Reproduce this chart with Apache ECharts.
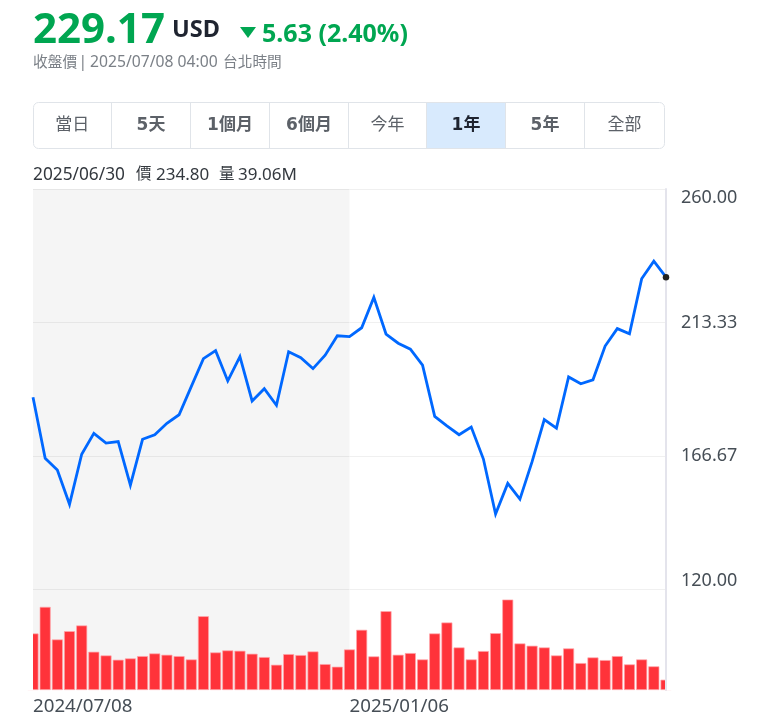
<!DOCTYPE html>
<html><head><meta charset="utf-8">
<style>html,body{margin:0;padding:0;background:#fff}#c{width:759px;height:718px}</style>
<script src="https://cdn.jsdelivr.net/npm/echarts@6/dist/echarts.min.js"></script>
</head><body><div id="c"></div>
<script>
const dates = ["2024/07/08","2024/07/15","2024/07/22","2024/07/29","2024/08/05","2024/08/12","2024/08/19","2024/08/26","2024/09/03","2024/09/09","2024/09/16","2024/09/23","2024/09/30","2024/10/07","2024/10/14","2024/10/21","2024/10/28","2024/11/04","2024/11/11","2024/11/18","2024/11/25","2024/12/02","2024/12/09","2024/12/16","2024/12/23","2024/12/30","2025/01/06","2025/01/13","2025/01/21","2025/01/27","2025/02/03","2025/02/10","2025/02/18","2025/02/24","2025/03/03","2025/03/10","2025/03/17","2025/03/24","2025/03/31","2025/04/07","2025/04/14","2025/04/21","2025/04/28","2025/05/05","2025/05/12","2025/05/19","2025/05/27","2025/06/02","2025/06/09","2025/06/16","2025/06/23","2025/06/30","2025/07/07"];
const prices = [187.2,165.9,161.8,149.8,167.3,174.6,171.2,171.7,156.5,172.5,174.1,178.1,181.1,190.9,200.7,203.5,192.9,201.4,185.9,190.2,184.4,203.1,201.0,197.2,201.9,208.7,208.4,211.5,222.1,209.3,206.1,204.0,198.4,180.5,177.2,174.1,176.8,165.6,146.4,157.1,151.6,164.7,179.4,176.4,194.3,191.9,193.3,205.1,211.2,209.4,228.6,234.8,229.17];
const volumes = [93.4,137.3,83.5,97.2,106.6,63.2,57.1,50,52.2,56,60.4,58.2,56,50.5,121.9,62.1,65.4,64.8,59.9,54.4,41.7,59.3,57.7,63.7,42.8,38.5,67,99.4,55.5,130.2,58.2,61,50.5,93.4,111.5,70.3,50.5,64.3,93.9,149.4,76.9,73.1,70.3,57.1,68.7,44.5,53.8,49.4,56,42.3,50.5,39.06,17];
const priceTicks = [120, 166.67, 213.33, 260];
const dateLabels = ["2024/07/08","2025/01/06"];
const shadedRange = ["2024/07/08","2025/01/06"];
const rangeButtons = ["當日","5天","1個月","6個月","今年","1年","5年","全部"];
const selectedButton = "1年";
const quote = {price:"229.17",currency:"USD",change:"5.63 (2.40%)"};

const FONT = '"Noto Sans","Noto Sans CJK TC",sans-serif';
const FONT_BTN = '"DejaVu Sans","Noto Sans CJK TC",sans-serif';
const GREEN = '#00a651';
const GREY = '#7b8087';
const DARK = '#33383e';
const BAND = 'rgba(0,0,0,0.04)';
const AXIS = '#e4e4ec';
const edges = [33,111.5,190.5,269.5,348.5,426.5,505.5,584.5,664.5];
const T = (x,y,text,size,fill,weight,align,font)=>({type:'text',x,y,silent:true,style:{text,fontFamily:font||FONT,fontSize:size,fontWeight:weight||'normal',fill,textAlign:align||'left',textVerticalAlign:'middle'}});
const R = (x,y,width,height,fill,z)=>({type:'rect',silent:true,z,shape:{x,y,width,height},style:{fill}});
const graphics = [
  T(33,31,quote.price,42,GREEN,'bold'),
  T(172,30,quote.currency,23.5,'#1f2430','bold'),
  {type:'polygon',silent:true,shape:{points:[[240,27],[256,27],[248,38]]},style:{fill:GREEN}},
  T(262,34.5,quote.change,25,GREEN,'bold'),
  T(33,63,"收盤價",14.7,GREY),
  T(78.5,63,"|",15.7,GREY),
  T(90,63,"2025/07/08 04:00",15.7,GREY),
  T(223,63,"台北時間",14.7,GREY),
  T(33,175,"2025/06/30",17.3,DARK),
  T(136,175,"價",15.5,DARK),
  T(156,175,"234.80",17,DARK),
  T(219,175,"量",15.5,DARK),
  T(238,175,"39.06M",17,DARK),
  {type:'rect',silent:true,z:0,shape:{x:33.5,y:102.5,width:631,height:46,r:5},style:{fill:'#fff',stroke:'#e0e4e9',lineWidth:1}},
  // trims the first and last bars at the plot edges, as the reference does
  R(24,591,9,99,'#fff',50),
  R(665,591,10,99,'#fff',50),
  R(665,591,2,99,AXIS,51)
];
rangeButtons.forEach((b,i)=>{
  const sel = b===selectedButton;
  if(sel) graphics.push({type:'rect',silent:true,z:1,shape:{x:edges[i],y:103,width:edges[i+1]-edges[i],height:45},style:{fill:'#d8eafd'}});
  if(i>0) graphics.push({type:'line',silent:true,z:2,shape:{x1:edges[i],y1:103,x2:edges[i],y2:148},style:{stroke:'#e0e4e9',lineWidth:1}});
  graphics.push({...T((edges[i]+edges[i+1])/2,126,b,17,sel?'#1f2430':'#5c6168',/\d/.test(b)||sel?'bold':'normal','center',FONT_BTN),z:3});
});
const bandArea = {silent:true,itemStyle:{color:BAND},data:[[{xAxis:shadedRange[0]},{xAxis:shadedRange[1]}]]};

const chart = echarts.init(document.getElementById('c'),null,{renderer:'canvas'});
chart.setOption({
  animation:false,
  textStyle:{fontFamily:FONT},
  graphic:graphics,
  grid:[{left:33,top:189,width:633,height:400.5},{left:33,top:589.5,width:633,height:100.5}],
  xAxis:[
    {type:'category',gridIndex:0,data:dates,boundaryGap:false,axisLine:{show:false},axisTick:{show:false},axisLabel:{show:false},splitLine:{show:false}},
    {type:'category',gridIndex:1,data:dates,boundaryGap:false,axisLine:{show:false},axisTick:{show:false},splitLine:{show:false},
     axisLabel:{interval:(i,v)=>dateLabels.includes(v),align:'left',margin:7,fontSize:18.7,color:'#464e56',fontFamily:FONT,hideOverlap:false}}
  ],
  yAxis:[
    {type:'value',gridIndex:0,position:'right',min:120,max:260,
     axisLine:{show:true,lineStyle:{color:AXIS,width:2}},
     axisTick:{show:false,customValues:priceTicks},
     splitLine:{show:true,lineStyle:{color:'#f0f0f0',width:1}},
     axisLabel:{customValues:priceTicks,formatter:v=>v.toFixed(2),margin:15,fontSize:18,color:'#464e56',fontFamily:FONT,verticalAlignMinLabel:'bottom',verticalAlignMaxLabel:'top'}},
    {type:'value',gridIndex:1,position:'right',min:0,max:166,
     axisLine:{show:true,lineStyle:{color:AXIS,width:2}},axisTick:{show:false},axisLabel:{show:false},splitLine:{show:false}}
  ],
  series:[
    {type:'line',xAxisIndex:0,yAxisIndex:0,z:3,symbol:'none',showSymbol:true,clip:false,
     lineStyle:{color:'#0068ff',width:2.8,join:'miter'},
     data:prices.map((v,i)=>i===prices.length-1?{value:v,symbol:'circle',symbolSize:6.5,itemStyle:{color:'#222',borderWidth:0}}:v),
     markArea:bandArea},
    {type:'line',xAxisIndex:1,yAxisIndex:1,z:1,symbol:'none',silent:true,lineStyle:{width:0,opacity:0},data:volumes,markArea:bandArea},
    {type:'bar',xAxisIndex:1,yAxisIndex:1,z:3,barWidth:11,data:volumes,
     itemStyle:{color:'#ff333a',borderColor:'#ffa6aa',borderWidth:0.7}}
  ]
});
</script></body></html>
